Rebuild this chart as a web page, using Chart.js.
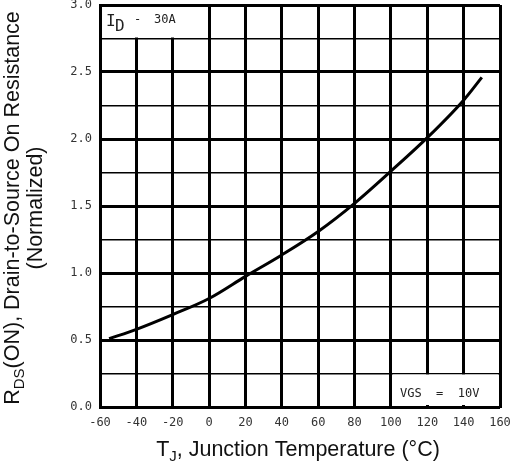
<!DOCTYPE html>
<html>
<head>
<meta charset="utf-8">
<script src="https://cdn.jsdelivr.net/npm/chart.js@4.4.1/dist/chart.umd.min.js"></script>
<style>
  html, body { margin: 0; padding: 0; background: #fff; }
  #wrap { width: 514px; height: 464px; }
</style>
</head>
<body>
<div id="wrap"><canvas id="rds-chart" width="514" height="464"></canvas></div>
<script>
// values
const junctionTemps = [-55, -40, -20, 0, 20, 40, 60, 80, 100, 120, 140, 150];
const rdsNormalized = [0.51, 0.58, 0.69, 0.81, 0.975, 1.135, 1.31, 1.52, 1.76, 2.01, 2.29, 2.46];
const xTickLabels = ["-60", "-40", "-20", "0", "20", "40", "60", "80", "100", "120", "140", "160"];
const yTickLabels = ["0.0", "0.5", "1.0", "1.5", "2.0", "2.5", "3.0"];
const idNote = ["I", "D", "-", "30A"];
const vgsNote = "VGS  =  10V";

const titleFont = "21.5px 'Liberation Sans', Arial, sans-serif";
const titleSubFont = "15px 'Liberation Sans', Arial, sans-serif";
const monoFont = "'DejaVu Sans Mono', monospace";

// draws a run of text pieces, some of them subscript, centred on x
function drawParts(ctx, parts, x, y) {
  let total = 0;
  for (const p of parts) {
    ctx.font = p.sub ? titleSubFont : titleFont;
    total += ctx.measureText(p.t).width;
  }
  let cx = x - total / 2;
  for (const p of parts) {
    ctx.font = p.sub ? titleSubFont : titleFont;
    ctx.fillText(p.t, cx, p.sub ? y + 5 : y);
    cx += ctx.measureText(p.t).width;
  }
}

const notesPlugin = {
  id: "notes",
  beforeDatasetsDraw(chart) {
    const { ctx } = chart;
    const xs = chart.scales.x;
    const ys = chart.scales.y;
    ctx.save();
    ctx.fillStyle = "#fff";
    // boxes where the grid is left out
    let x1 = xs.getPixelForValue(-60) + 2;
    let x2 = xs.getPixelForValue(0) - 2;
    let y1 = ys.getPixelForValue(3) + 2;
    let y2 = ys.getPixelForValue(2.75) - 1;
    ctx.fillRect(x1, y1, x2 - x1, y2 - y1);
    x1 = xs.getPixelForValue(100) + 2;
    x2 = xs.getPixelForValue(160) - 2;
    y1 = ys.getPixelForValue(0.25) + 1;
    y2 = ys.getPixelForValue(0) - 2;
    ctx.fillRect(x1, y1, x2 - x1, y2 - y1);

    ctx.fillStyle = "#222";
    ctx.textBaseline = "alphabetic";
    ctx.textAlign = "left";
    ctx.font = "16px " + monoFont;
    ctx.fillText(idNote[0], 106, 26);
    ctx.fillText(idNote[1], 115, 31);
    ctx.font = "12px " + monoFont;
    ctx.fillText(idNote[2], 134, 23);
    ctx.fillText(idNote[3], 154, 23);
    ctx.fillText(vgsNote, 400, 397);
    ctx.restore();
  },
  afterDraw(chart) {
    const { ctx } = chart;
    ctx.save();
    ctx.fillStyle = "#111";
    ctx.textAlign = "left";
    ctx.textBaseline = "alphabetic";
    drawParts(ctx, [{ t: "T" }, { t: "J", sub: true }, { t: ", Junction Temperature (°C)" }], 298, 456);

    ctx.translate(19, 208);
    ctx.rotate(-Math.PI / 2);
    drawParts(ctx, [{ t: "R" }, { t: "DS", sub: true }, { t: "(ON), Drain-to-Source On Resistance" }], 0, 0);
    ctx.translate(0, 23);
    drawParts(ctx, [{ t: "(Normalized)" }], 0, 0);
    ctx.restore();
  },
};

const rdsChart = new Chart(document.getElementById("rds-chart"), {
  type: "line",
  data: {
    labels: junctionTemps,
    datasets: [
      {
        data: junctionTemps.map((t, i) => ({ x: t, y: rdsNormalized[i] })),
        borderColor: "#000",
        borderWidth: 3,
        pointRadius: 0,
        cubicInterpolationMode: "monotone",
        fill: false,
      },
    ],
  },
  options: {
    responsive: false,
    animation: false,
    layout: { padding: { left: 0, right: 14, top: 5, bottom: 0 } },
    plugins: { legend: { display: false }, tooltip: { enabled: false } },
    scales: {
      x: {
        type: "linear",
        min: -60,
        max: 160,
        afterFit: (scale) => {
          scale.height = 57;
          scale.paddingLeft = 0;
          scale.paddingRight = 0;
        },
        afterBuildTicks: (scale) => {
          scale.ticks = xTickLabels.map((l) => ({ value: Number(l) }));
        },
        ticks: {
          padding: 9,
          color: "#333",
          font: { family: monoFont, size: 12 },
          maxRotation: 0,
          autoSkip: false,
          callback: (value, index) => xTickLabels[index],
        },
        grid: { color: "#000", lineWidth: 3, drawTicks: false },
        border: { color: "#000", width: 2 },
      },
      y: {
        type: "linear",
        min: 0,
        max: 3,
        afterFit: (scale) => {
          scale.width = 100;
          scale.paddingTop = 0;
          scale.paddingBottom = 0;
        },
        ticks: {
          stepSize: 0.25,
          padding: 8,
          color: "#333",
          font: { family: monoFont, size: 12 },
          autoSkip: false,
          callback: (value) => {
            const idx = Math.round(value * 2);
            return Math.abs(value * 2 - idx) < 1e-6 ? yTickLabels[idx] : "";
          },
        },
        grid: {
          color: "#000",
          drawTicks: false,
          lineWidth: (ctx) => {
            const v = ctx.tick ? ctx.tick.value : 0;
            return Math.abs(v * 2 - Math.round(v * 2)) < 1e-6 ? 3 : 1.5;
          },
        },
        border: { color: "#000", width: 2 },
      },
    },
  },
  plugins: [notesPlugin],
});
</script>
</body>
</html>
